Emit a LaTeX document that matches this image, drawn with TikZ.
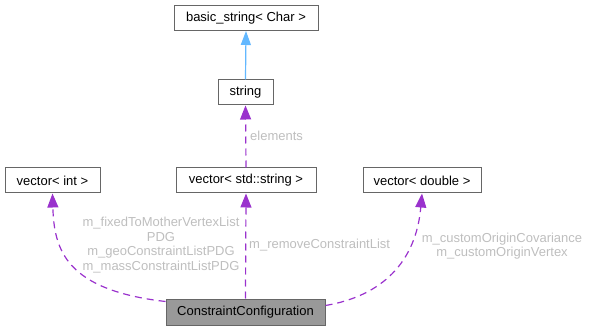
\documentclass[tikz,border=0pt]{standalone}
\usepackage{fontspec}
\setmainfont{Liberation Sans}
\usetikzlibrary{arrows.meta,calc}
\definecolor{edgepurple}{HTML}{9A32CD}
\definecolor{edgeblue}{HTML}{63B8FF}
\definecolor{boxline}{HTML}{666666}
\definecolor{lbl}{HTML}{BEBEBE}
\begin{document}
\begin{tikzpicture}[x=1pt,y=-1pt,
  box/.style={draw=boxline,line width=1pt,fill=white,inner sep=0pt,minimum height=25pt,font=\fontsize{13}{15}\selectfont},
  focus/.style={box,fill=black!40},
  dep/.style={draw=edgepurple,line width=1.2pt,dash pattern=on 7pt off 5pt,-{Triangle[length=14pt,width=11pt]}},
  inh/.style={draw=edgeblue,line width=1.2pt,-{Triangle[length=14pt,width=10pt]}},
  elabel/.style={text=lbl,inner sep=0pt,align=center,font=\fontsize{13}{14.7}\selectfont}]
\useasboundingbox (0,0) rectangle (589,331);
\node[box,minimum width=144pt] (bs) at (246,18) {basic\_string< Char >};
\node[box,minimum width=55pt] (str) at (245.5,92.5) {string};
\node[box,minimum width=95pt] (vint) at (52.5,180.5) {vector< int >};
\node[box,minimum width=140pt] (vstr) at (246,180.5) {vector< std::string >};
\node[box,minimum width=118pt] (vdbl) at (422,180.5) {vector< double >};
\node[focus,minimum width=159pt,minimum height=26pt] (cc) at (245.5,312) {ConstraintConfiguration};

\draw[inh] (str.north) -- (bs.south);
\draw[dep] (vstr.north) -- (str.south);
\draw[dep] (cc.north) -- (vstr.south);
\draw[dep] ($(cc.north west)+(0,3)$) .. controls (66,290) and (54,250) .. (vint.south);
\draw[dep] ($(cc.north east)+(0,7)$) .. controls (382,296) and (416,262) .. (vdbl.south);

\node[elabel,anchor=west] (l1) at (250,136) {elements};
\node[elabel,anchor=west] (l2) at (249,245.5) {m\_removeConstraintList};
\node[elabel] (l3) at (161,245) {m\_fixedToMotherVertexList\\PDG\\m\_geoConstraintListPDG\\m\_massConstraintListPDG};
\node[elabel] (l4) at (502,246) {m\_customOriginCovariance\\m\_customOriginVertex};
\end{tikzpicture}
\end{document}
